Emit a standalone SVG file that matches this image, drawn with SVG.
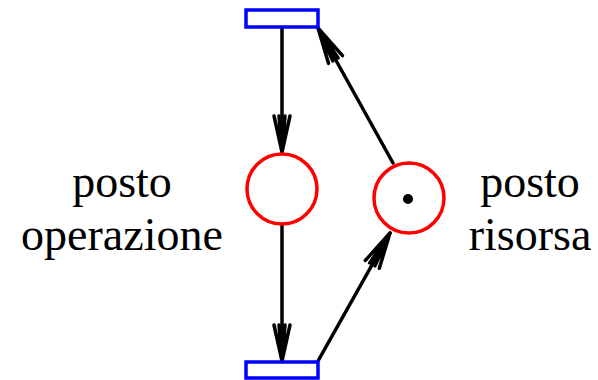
<svg xmlns="http://www.w3.org/2000/svg" width="598" height="380" viewBox="0 0 598 380">
<style>
.tr{fill:#fff;stroke:#0000ff;stroke-width:3.5}
.pl{fill:#fff;stroke:#ff0000;stroke-width:3.5}
.arc{fill:none;stroke:#000;stroke-width:3.5;stroke-linecap:round;stroke-linejoin:round}
.lbl{font-family:"Liberation Serif","Times New Roman",serif;font-size:46px;fill:#000;text-anchor:middle}
</style>
<defs>
<marker id="ah" markerUnits="userSpaceOnUse" viewBox="-38 -10 40 20" refX="0" refY="0" markerWidth="40" markerHeight="20" orient="auto" overflow="visible">
<path d="M-36,-8 L0,0 L-36,8 M-36,-3 L0,0 L-36,3" fill="none" stroke="#000" stroke-width="3.5" stroke-linecap="round" stroke-linejoin="round"/>
</marker>
</defs>
<g id="connectors">
<line class="arc" x1="282" y1="27" x2="282" y2="152" marker-end="url(#ah)"/>
<line class="arc" x1="282" y1="226" x2="282" y2="361" marker-end="url(#ah)"/>
<line class="arc" x1="393" y1="163" x2="318" y2="28" marker-end="url(#ah)"/>
<line class="arc" x1="318" y1="361" x2="390" y2="233" marker-end="url(#ah)"/>
</g>
<g id="t_top"><rect class="tr" x="246" y="10" width="72" height="17"/></g>
<g id="t_bottom"><rect class="tr" x="246" y="362" width="72" height="16"/></g>
<g id="p_operazione"><circle class="pl" cx="282" cy="189" r="35"/></g>
<g id="p_risorsa"><circle class="pl" cx="409" cy="198" r="35"/><circle cx="408" cy="199" r="5" fill="#000"/></g>
<g id="label_operazione"><text class="lbl" x="122" y="197">posto</text><text class="lbl" x="122" y="250">operazione</text></g>
<g id="label_risorsa"><text class="lbl" x="530" y="197">posto</text><text class="lbl" x="530" y="250">risorsa</text></g>
</svg>
